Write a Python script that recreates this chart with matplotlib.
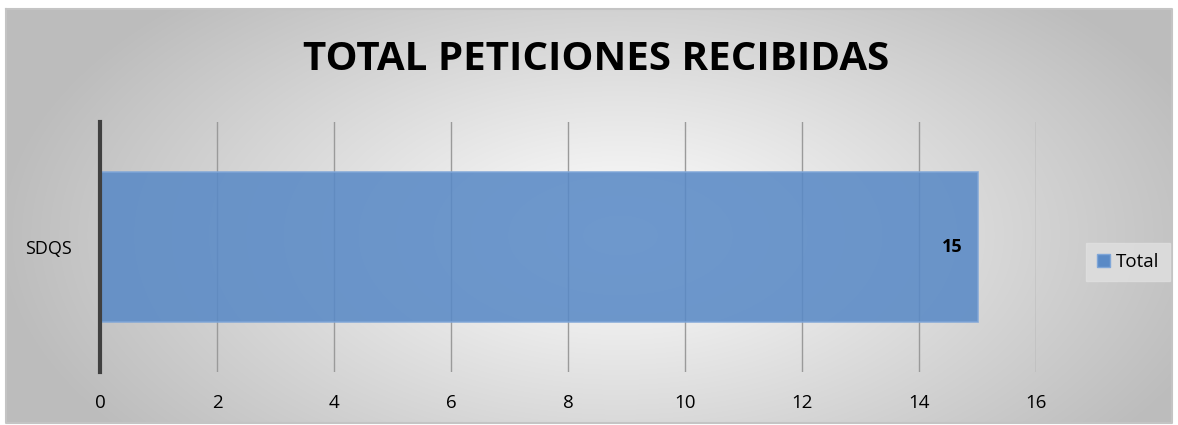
import numpy as np
import matplotlib
matplotlib.use("Agg")
import matplotlib.pyplot as plt
from matplotlib.patches import Patch

categories = ["SDQS"]
values = [15]
xticks = [0, 2, 4, 6, 8, 10, 12, 14, 16]
series_name = "Total"
title = "TOTAL PETICIONES RECIBIDAS"

plt.rcParams['font.family'] = ['Open Sans', 'DejaVu Sans']

W, H = 1178, 425
fig = plt.figure(figsize=(W / 100, H / 100), dpi=100, facecolor='white')

# radial gradient background inside the chart frame
bg = fig.add_axes([0, 0, 1, 1])
x0, y0, x1, y1 = 6, 9, 1172, 423
yy, xx = np.mgrid[y0:y1, x0:x1]
cx, cy = 620, 235
d = np.sqrt(((xx - cx) / 620) ** 2 + ((yy - cy) / 330) ** 2)
v = np.clip(1.0 - 0.26 * d, 0.74, 1.0)
img = np.dstack([v, v, v])
bg.imshow(img, extent=[x0, x1, y1, y0], aspect='auto')
bg.plot([x0, x1, x1, x0, x0], [y0, y0, y1, y1, y0], color='#c4c4c4', lw=1.5)
bg.set_xlim(0, W)
bg.set_ylim(H, 0)
bg.axis('off')

ax = fig.add_axes([100 / W, 53 / H, 936 / W, 250 / H])
ax.patch.set_alpha(0)
ypos = np.arange(len(categories))
ax.barh(ypos, values, height=0.6, color='#5a8ac6', alpha=0.88,
        edgecolor='#7fa6d8', linewidth=1.2, zorder=3, label=series_name)
ax.set_xlim(0, 16)
ax.set_ylim(-0.5, 0.5)
ax.set_xticks(xticks)
ax.set_xticklabels([str(t) for t in xticks], fontsize=13.5)
ax.set_yticks(ypos)
ax.set_yticklabels(categories, fontsize=13)
ax.tick_params(length=0)
ax.tick_params(axis='x', pad=16)
ax.tick_params(axis='y', pad=20)
ax.grid(axis='x', color='#9a9a9a', linewidth=1, zorder=1)
for s in ['top', 'right', 'bottom']:
    ax.spines[s].set_visible(False)
ax.spines['left'].set_color('#404040')
ax.spines['left'].set_linewidth(3)
ax.spines['left'].set_zorder(4)

for y, val in zip(ypos, values):
    ax.text(val - 0.25, y, str(val), ha='right', va='center', fontsize=13,
            fontweight='bold', color='black', zorder=5)

fig.text(596 / W, 1 - 60 / H, title, ha='center', va='center', fontsize=29,
         fontweight='bold', color='black')

leg = ax.legend(handles=[Patch(facecolor='#5a8ac6', edgecolor='#7fa6d8', label=series_name)],
                loc='center left', bbox_to_anchor=(1077 / W, 1 - 262 / H),
                bbox_transform=fig.transFigure, frameon=True, fontsize=13.5,
                handlelength=0.7, handleheight=0.7, handletextpad=0.35,
                borderpad=0.55, fancybox=False)
leg.get_frame().set_facecolor('#e0e0e0')
leg.get_frame().set_edgecolor('#e0e0e0')
leg.get_frame().set_alpha(0.8)

fig.savefig('out.png', dpi=100, facecolor='white')
